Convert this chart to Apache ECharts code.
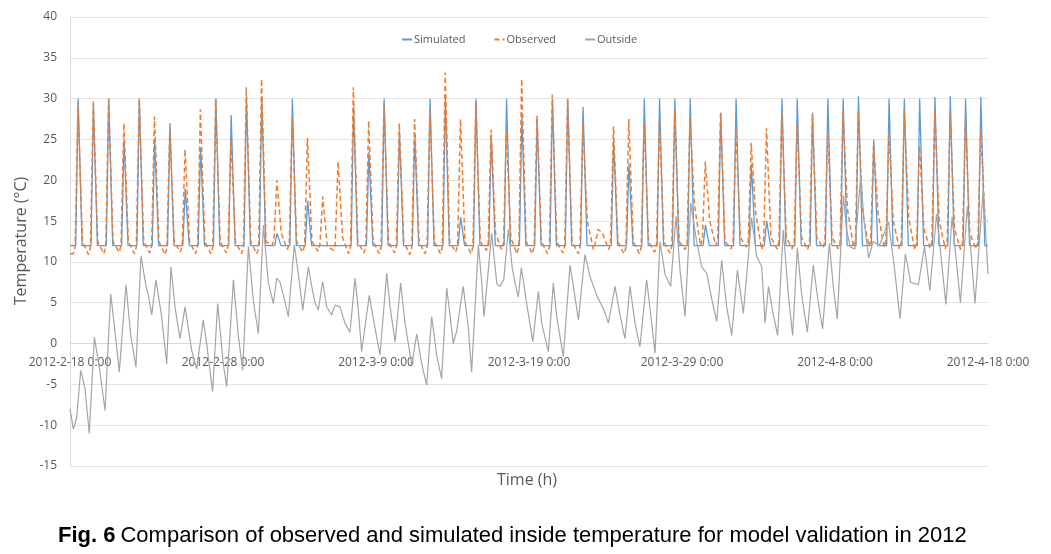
<!DOCTYPE html>
<html>
<head>
<meta charset="utf-8">
<script src="https://cdn.jsdelivr.net/npm/echarts@6/dist/echarts.min.js"></script>
<style>
html,body{margin:0;padding:0;background:#fff;}
#c{width:1051px;height:554px;}
</style>
</head>
<body>
<div id="c"></div>
<script>
// ---- data (one entry per day, 2012-2-18 .. 2012-4-17) ----
const startDate = Date.UTC(2012, 1, 18);
const xTickHours = 240;           // tick every 10 days
const yTicks = { min: -15, max: 40, step: 5 };

const simBase = 12;
const simPeak = [30,29,30,25,30,25,27,19,24,30, 28,30,30,13.5,30,17.5,12,12,29,23.5,
                 30,26,25.5,30,30,15.5,30,25.5,30,28, 27.5,30,30,29,12,25,22,30,30,30,
                 30,14.5,28.3,30,22,15,30,30,28.3,30, 30,30.3,25,30,30,30,30.2,30.3,30,30.2];

const obsPeak = [29.5,29.7,30,27,30,27.8,26.2,23.8,28.7,30, 25,31.4,32.4,20,27.7,25.2,18,22.3,31.4,27.3,
                 29.5,27,27.5,28.7,33.2,27.5,29.5,26.2,26,32.4, 27.9,30.5,30,27,14,26.6,27.5,27,27.3,28.7,
                 27.7,22.3,28.3,26.4,24.6,26.4,28.5,27,28.1,26, 28.5,28.5,24.4,25.8,28.7,24.2,28.5,28.3,27.3,26];
const obsNight = [11,10.9,11,11.2,11,11.1,10.9,11.2,11,11, 11.1,11,11,12,11.5,11.2,11.3,11.4,11,11.1,
                  11,11.1,10.9,11,11,11.2,11,11.4,11.5,11, 11,11,11.1,11,11.5,11.5,11,11,11.2,11.1,
                  11.5,12,12,11.6,11.8,11.5,11.6,11.6,11.5,11.7, 11.6,11.8,11.9,11.8,11.6,11.5,11.7,11.6,11.5,11.6];
const obsEve = [12.5,12.5,12.5,12.5,12.5,12.5,12.5,12.5,12.5,12.5, 12.5,12.5,12.5,13.5,12.5,12.5,12,13,12.5,12.5,
                12.5,12.5,12.5,12.5,12.5,12.5,12.5,13.5,13,12.5, 12.5,12.5,12.5,15,13.5,12.5,12.5,12.5,12.5,12.5,
                17,15,12.5,13,16,13,13,13,13,13, 16.5,16,16,15,15.5,14,15,14,13.5,15];
const obsEnd = 15;

const outDay = [0,0.22,0.44,0.70,0.98,1.26,1.59,1.92,2.29,2.66,2.94,3.22,3.66,3.97,4.31,4.64,4.97,5.12,5.34,5.62,
  5.99,6.32,6.60,6.86,7.19,7.52,7.95,8.28,8.71,8.93,9.32,9.65,10.02,10.24,10.68,11.0,11.29,11.66,11.98,12.31,
  12.64,12.96,13.29,13.51,13.73,13.94,14.27,14.66,14.92,15.21,15.58,15.80,16.01,16.23,16.51,16.78,17.10,17.32,17.65,17.97,
  18.30,18.63,18.85,19.06,19.56,19.83,20.26,20.70,20.92,21.25,21.61,21.90,22.34,22.66,22.99,23.31,23.64,23.97,24.29,24.62,
  24.84,25.05,25.27,25.70,26.03,26.25,26.69,26.91,27.06,27.56,27.9,28.1,28.35,28.65,28.9,29.1,29.3,29.5,29.8,30.25,
  30.61,30.83,31.26,31.59,31.81,32.24,32.68,32.90,33.23,33.66,33.99,34.42,34.86,35.19,35.62,35.95,36.27,36.60,36.93,37.25,
  37.69,38.02,38.24,38.56,38.89,39.26,39.61,39.87,40.20,40.57,40.96,41.29,41.62,41.94,42.27,42.59,42.92,43.25,43.62,44.01,
  44.55,44.88,45.21,45.43,45.65,45.97,46.25,46.62,46.95,47.23,47.54,47.82,48.19,48.58,48.91,49.19,49.63,49.89,50.15,50.55,
  50.75,51.0,51.3,51.68,51.9,52.2,52.5,52.9,53.5,53.9,54.25,54.6,54.95,55.45,55.85,56.2,56.64,57.25,57.65,58.2,
  58.65,59.15,59.69,60];
const outTemp = [-8.0,-10.5,-9.0,-3.3,-5.5,-11.0,0.8,-3.0,-8.2,6.1,1.5,-3.5,7.2,1.0,-2.9,10.7,7.0,5.9,3.5,7.8,
  3.3,-2.5,9.4,4.5,0.6,4.5,-0.8,-3.1,2.9,0.0,-5.9,4.9,-2.5,-5.3,7.8,1.0,-3.3,11.9,5.3,1.2,
  14.5,7.5,4.9,8.0,7.5,6.0,3.3,12.1,8.6,4.1,9.4,7.0,5.0,4.1,7.6,4.5,3.5,4.7,4.5,2.5,
  1.4,8.0,4.0,-1.0,5.9,3.0,-1.4,8.6,4.5,0.2,7.4,2.5,-2.7,1.2,-2.5,-5.1,3.3,-1.5,-4.3,6.8,
  3.5,0.0,1.5,7.0,2.0,-3.5,12.1,7.5,3.3,13.5,7.3,7.0,7.8,14.0,9.3,7.3,5.7,9.3,5.5,0.2,
  6.4,2.5,-1.0,7.4,3.3,-1.6,9.6,7.0,2.9,10.9,8.2,5.9,4.3,2.5,7.0,3.5,0.6,7.0,2.5,-0.4,
  7.8,2.5,-1.2,12.5,8.5,7.0,15.6,9.0,3.3,17.2,12.5,9.4,8.6,5.5,2.7,10.2,4.5,1.0,9.0,3.7,
  15.4,10.7,9.4,2.5,7.0,3.5,1.0,13.9,6.0,1.0,11.7,6.0,1.4,9.6,5.0,1.8,12.3,7.0,3.0,18.2,
  14.0,11.8,11.6,20.5,15.0,10.5,12.5,12.0,14.9,9.0,3.0,11.0,7.5,7.2,11.9,6.5,15.9,4.8,15.5,5.0,
  16.8,4.9,19.0,8.5];

// ---- build [hour, value] series from the daily readings ----
const nDays = simPeak.length;
const simData = [[0, simBase]];
const obsData = [[0, obsNight[0]]];
for (let d = 0; d < nDays; d++) {
  const h = d * 24;
  simData.push([h + 9, simBase], [h + 12.8, simPeak[d]], [h + 15.6, simPeak[d]], [h + 19, simBase]);
  obsData.push([h + 5, obsNight[d]], [h + 8, obsNight[d] + 0.8], [h + 12.5, obsPeak[d]], [h + 19.5, obsEve[d]]);
}
simData.push([nDays * 24, simBase]);
obsData.push([nDays * 24, obsEnd]);
const outData = outDay.map((d, i) => [d * 24, outTemp[i]]);

function fmtHour(v) {
  const dt = new Date(startDate + v * 3600000);
  return dt.getUTCFullYear() + '-' + (dt.getUTCMonth() + 1) + '-' + dt.getUTCDate() + ' 0:00';
}

const gridTop = 17, gridHeight = 449;
// x axis sits on the y = 0 line (as in the reference)
const xAxisOffset = -gridHeight * (0 - yTicks.min) / (yTicks.max - yTicks.min);

const chart = echarts.init(document.getElementById('c'), null, { renderer: 'canvas' });
const gray = '#595959';
chart.setOption({
  animation: false,
  backgroundColor: '#ffffff',
  title: [
    { text: 'Time (h)', left: 497, top: 472, padding: 0,
      textStyle: { fontFamily: 'Open Sans', fontSize: 16, fontWeight: 'normal', color: gray } },
    {
      text: '{b|Fig. 6} {n|Comparison of observed and simulated inside temperature for model validation in 2012}',
      left: 58, top: 525, padding: 0,
      textStyle: {
        fontWeight: 'normal',
        rich: {
          b: { fontFamily: 'Liberation Sans', fontSize: 22, fontWeight: 'bold', color: '#000' },
          n: { fontFamily: 'Liberation Sans', fontSize: 22, fontWeight: 'normal', color: '#000' }
        }
      }
    }
  ],
  graphic: [{
    type: 'text', x: 21, y: 241, rotation: Math.PI / 2,
    style: { text: 'Temperature (\u00B0C)', fill: gray, font: '16px "Open Sans"', textAlign: 'center', textVerticalAlign: 'middle' }
  }],
  legend: {
    top: 29, left: 396,
    itemWidth: 10, itemHeight: 8, itemGap: 28,
    itemStyle: { opacity: 0 },
    textStyle: { color: gray, fontFamily: 'Open Sans', fontSize: 11, padding: [0, 0, 0, -3] },
    data: ['Simulated', 'Observed', 'Outside']
  },
  grid: { left: 70, top: gridTop, width: 918, height: gridHeight, containLabel: false },
  xAxis: {
    type: 'value', min: 0, max: nDays * 24, interval: xTickHours,
    position: 'bottom', offset: xAxisOffset,
    axisLine: { onZero: false, lineStyle: { color: '#d9d9d9', width: 1 } },
    axisTick: { show: false },
    splitLine: { show: false },
    axisLabel: { color: gray, fontFamily: 'Open Sans', fontSize: 12, margin: 13, formatter: fmtHour }
  },
  yAxis: {
    type: 'value', min: yTicks.min, max: yTicks.max, interval: yTicks.step,
    axisLine: { show: true, onZero: false, lineStyle: { color: '#d9d9d9' } },
    axisTick: { show: false },
    splitLine: { lineStyle: { color: '#e4e4e4', width: 1 } },
    axisLabel: { color: gray, fontFamily: 'Open Sans', fontSize: 12, margin: 13 }
  },
  series: [
    { name: 'Simulated', type: 'line', data: simData, showSymbol: false, symbol: 'none',
      lineStyle: { color: '#5B9BD5', width: 1.3 }, itemStyle: { color: '#5B9BD5' } },
    { name: 'Observed', type: 'line', data: obsData, showSymbol: false, symbol: 'none',
      lineStyle: { color: '#ED7D31', width: 1.5, type: [5, 3] }, itemStyle: { color: '#ED7D31' } },
    { name: 'Outside', type: 'line', data: outData, showSymbol: false, symbol: 'none',
      lineStyle: { color: '#A5A5A5', width: 1.2 }, itemStyle: { color: '#A5A5A5' } }
  ]
});
</script>
</body>
</html>
